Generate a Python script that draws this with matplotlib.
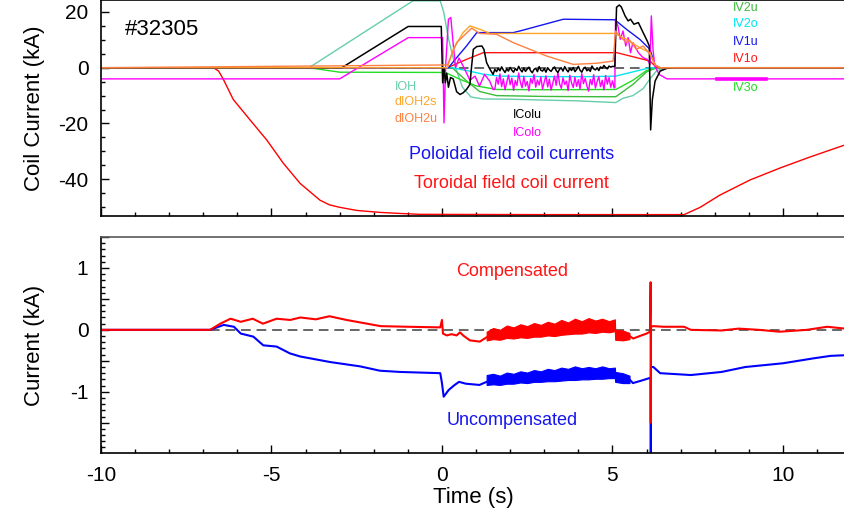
import matplotlib
matplotlib.use("Agg")
import matplotlib.pyplot as plt
from matplotlib.ticker import MultipleLocator, FuncFormatter

plt.rcParams["font.family"] = ["Liberation Sans", "DejaVu Sans"]
plt.rcParams["axes.unicode_minus"] = False

# ---------------- top panel: coil currents (kA) vs time (s) ----------------
tf_t = [-10, -6.7, -6.55, -6.41, -6.12, -5.63, -5.14, -4.65, -4.16, -3.58,
        -3.3, -2.99, -2.5, -1.82, -1.2, -0.65, 3.0, 7.1, 7.57, 8.15, 9.03,
        9.91, 10.8, 11.82]
tf_i = [0, 0, -1.2, -4.2, -11.4, -18.7, -25.9, -34.3, -41.5, -47.5,
        -49.2, -50.1, -51.2, -51.9, -52.3, -52.6, -52.7, -52.7, -50.1, -45.7,
        -40.3, -36.0, -32.0, -27.7]

ioh_t = [-10, -3.9, -0.85, -0.05, 0.05, 0.2, 0.4, 0.6, 0.85, 1.2, 2.0, 3.0,
         4.0, 5.1, 5.3, 5.6, 5.9, 6.1, 6.3, 6.6, 11.82]
ioh_i = [0, 0, 24, 24, 20, 10, 0, -7, -10.5, -11.2, -11.3, -11.6,
         -11.9, -12.5, -11.0, -10.0, -7.5, -4.0, -1.0, 0, 0]

v3o_t = [-10, -3.9, -3.0, 0.1, 0.5, 1.0, 1.6, 3.0, 5.1, 5.6, 6.0, 6.3, 11.82]
v3o_i = [0, 0, -1.6, -1.7, -4.0, -6.5, -7.8, -7.9, -7.8, -4.5, -1.0, 0, 0]

v2u_t = [-10, 0.3, 0.7, 1.1, 1.6, 3.0, 4.5, 5.1, 5.6, 6.0, 6.3, 11.82]
v2u_i = [0, 0, -4.5, -8.5, -10.0, -10.3, -10.4, -10.4, -6.0, -1.5, 0, 0]

v2o_t = [-10, 0.3, 0.8, 1.2, 1.7, 2.3, 3.2, 4.3, 5.1, 6.1, 11.82]
v2o_i = [0, 0, -1.2, -2.3, -3.0, -3.1, -3.2, -3.2, -3.0, 0, 0]

v1o_t = [-10, 0.16, 0.72, 1.21, 5.13, 6.1, 6.3, 11.82]
v1o_i = [0, 0, 3.0, 5.4, 5.4, 2.4, 0, 0]

v1u_t = [-10, 0.19, 0.43, 0.72, 1.02, 2.09, 2.29, 3.56, 5.07, 5.41, 5.8, 6.1,
         6.25, 6.4, 11.82]
v1u_i = [0, 0, 3.6, 7.8, 12.6, 12.6, 13.2, 17.4, 17.2, 13.8, 10.2, 6.6,
         1.0, 0, 0]

h2s_t = [-10, 0.16, 0.33, 0.62, 0.82, 1.11, 1.41, 5.07, 5.41, 5.8, 6.1, 6.25,
         6.4, 11.82]
h2s_i = [0, 0, 6.6, 12.6, 15.0, 13.8, 12.3, 12.3, 10.2, 7.2, 5.4, 1.0, 0, 0]

h2u_t = [-10, 0.16, 0.43, 0.87, 1.11, 1.6, 2.09, 3.07, 3.85, 4.54, 5.02, 5.09,
         5.2, 5.41, 5.5, 5.7, 5.9, 6.1, 6.25, 6.4, 11.82]
h2u_i = [0, 1.0, 9.0, 14.2, 12.3, 12.0, 9.0, 4.2, 1.2, 1.6, 2.4, 13.2,
         11.5, 9.0, 10.0, 6.6, 7.8, 4.8, 1.0, 0, 0]

# plasma flat-top, sampled every 0.05 s
flat_t = [1.55, 1.6, 1.65, 1.7, 1.75, 1.8, 1.85, 1.9, 1.95, 2.0, 2.05, 2.1,
          2.15, 2.2, 2.25, 2.3, 2.35, 2.4, 2.45, 2.5, 2.55, 2.6, 2.65, 2.7,
          2.75, 2.8, 2.85, 2.9, 2.95, 3.0, 3.05, 3.1, 3.15, 3.2, 3.25, 3.3,
          3.35, 3.4, 3.45, 3.5, 3.55, 3.6, 3.65, 3.7, 3.75, 3.8, 3.85, 3.9,
          3.95, 4.0, 4.05, 4.1, 4.15, 4.2, 4.25, 4.3, 4.35, 4.4, 4.45, 4.5,
          4.55, 4.6, 4.65, 4.7, 4.75, 4.8, 4.85, 4.9, 4.95, 5.0, 5.05]
colu_flat = [-0.6, -1.4, -0.2, -1.1, 0.3, -0.8, -1.7, -0.4, -1.2, 0.1,
             -0.9, -1.6, -0.3, -1.0, 0.5, -0.7, -1.5, -0.1, -1.3, -0.5,
             0.2, -1.1, -1.8, -0.6, -0.2, -1.4, 0.4, -0.9, -1.2, -0.3,
             -1.6, 0.0, -0.8, -1.3, -0.4, 0.3, -1.0, -1.7, -0.5, -0.1,
             -1.2, 0.4, -0.7, -1.5, -0.2, -1.0, 0.1, -1.4, -0.6, 0.5,
             -0.9, -1.6, -0.3, 0.2, -1.1, -0.5, -1.3, 0.6, -0.4, -0.8,
             0.0, -1.0, 0.3, -0.2, 0.8, 0.1, -0.4, 0.6, 0.2, 0.5, 0.4]
colo_flat = [-7.8, -3.5, -5.9, -2.2, -6.8, -4.0, -7.9, -5.2, -2.6, -6.1,
             -3.7, -8.1, -4.6, -6.4, -1.9, -5.3, -7.2, -3.1, -6.6, -4.9,
             -8.3, -3.9, -5.6, -2.4, -7.0, -4.4, -6.2, -3.3, -7.7, -5.1,
             -2.9, -6.9, -4.1, -8.0, -5.5, -3.0, -6.3, -1.6, -5.8, -7.4,
             -3.6, -6.0, -4.8, -8.2, -2.7, -5.4, -7.1, -3.4, -6.7, -4.3,
             -7.6, -2.1, -5.7, -3.8, -6.5, -8.4, -4.2, -6.1, -2.5, -7.3,
             -5.0, -3.2, -6.8, -4.5, -7.9, -2.8, -5.9, -3.5, -7.0, -4.7, -7.2]

colu_t = ([-10, -2.94, -0.99, -0.02, 0.02, 0.06, 0.1, 0.14, 0.19, 0.25, 0.33,
           0.43, 0.53, 0.62, 0.72, 0.82, 0.87, 0.92, 1.02, 1.17, 1.23, 1.31,
           1.41, 1.5] + flat_t +
          [5.07, 5.12, 5.2, 5.26, 5.37, 5.46, 5.53, 5.63, 5.76, 5.9, 6.02,
           6.08, 6.12, 6.17, 6.25, 6.4, 6.6, 6.8, 11.82])
colu_i = ([0, 0, 14.8, 14.8, -5.4, 0.0, -5.4, -2.0, -7.0, -3.5, -4.0,
           -8.6, -9.6, -9.0, -7.8, -6.0, 0.6, 6.6, 7.6, 7.8, 6.6, 1.8,
           -0.6, -2.4] + colu_flat +
          [0.5, 21.7, 22.5, 21.8, 18.6, 16.8, 17.4, 15.6, 16.2, 12.6, 9.6,
           7.8, -22.3, -11.4, -4.8, -1.2, -0.2, 0, 0])

colo_t = ([-10, -3.0, -0.99, -0.02, 0.02, 0.06, 0.11, 0.19, 0.26, 0.33, 0.4,
           0.5, 0.67, 0.82, 0.97, 1.1, 1.25, 1.4, 1.5] + flat_t +
          [5.07, 5.09, 5.16, 5.23, 5.31, 5.39, 5.46, 5.53, 5.6, 5.76, 5.9,
           6.02, 6.1, 6.14, 6.19, 6.24, 6.37, 6.6, 11.82])
colo_i = ([-4, -4, 10.8, 10.8, 10.8, -19.8, 1.0, 17.4, 18.0, 8.5, 0.0,
           3.5, -0.6, -4.5, -3.0, -6.6, -2.4, -4.8, -7.8] + colo_flat +
          [-7.2, 17.4, 15.0, 10.2, 13.2, 7.8, 10.8, 5.4, 9.0, 5.4, 3.6,
           3.0, 1.2, 18.6, 6.6, 0.6, -2.4, -4.0, -4.0])
colo_thick_t = [8.06, 9.5]
colo_thick_i = [-4, -4]

# ---------------- bottom panel: compensated / uncompensated (kA) -------------
comp_pre_t = [-10, -6.8, -6.5, -6.2, -5.9, -5.55, -5.25, -4.85, -4.45, -4.15,
              -3.7, -3.3, -2.8, -2.4, -1.8, -1.0, -0.05, 0.0, 0.03, 0.14,
              0.28, 0.43, 0.53, 0.62, 0.82, 1.11, 1.31]
comp_pre_i = [0, 0, 0.1, 0.18, 0.13, 0.18, 0.10, 0.18, 0.16, 0.20,
              0.17, 0.22, 0.16, 0.12, 0.06, 0.05, 0.04, 0.16, -0.06, -0.09,
              -0.07, -0.09, -0.04, -0.09, -0.17, -0.19, -0.12]
comp_post_t = [5.5, 5.61, 5.8, 6.0, 6.1, 6.12, 6.125, 6.13, 6.2, 6.5, 7.1,
               7.3, 8.2, 8.7, 9.3, 9.9, 10.7, 11.3, 11.82]
comp_post_i = [-0.1, -0.14, -0.1, -0.06, -0.03, 0.77, -1.5, 0.05, 0.06, 0.05,
               0.05, 0.0, -0.01, 0.02, 0.0, -0.03, 0.0, 0.05, 0.02]

unc_pre_t = [-10, -6.8, -6.4, -6.1, -5.9, -5.53, -5.24, -4.85, -4.46, -4.16,
             -3.28, -2.4, -1.82, -1.23, -0.05, 0.0, 0.05, 0.2, 0.35, 0.5, 0.7,
             1.1, 1.31]
unc_pre_i = [0, 0, 0.08, 0.05, -0.06, -0.11, -0.25, -0.27, -0.38, -0.43,
             -0.52, -0.59, -0.66, -0.68, -0.70, -0.86, -1.08, -0.97, -0.9,
             -0.84, -0.87, -0.89, -0.84]
unc_post_t = [5.5, 5.6, 5.85, 6.08, 6.12, 6.125, 6.13, 6.2, 6.4, 7.3, 8.2,
              8.9, 10.0, 10.9, 11.4, 11.82]
unc_post_i = [-0.8, -0.86, -0.82, -0.78, -0.78, -2.1, -0.6, -0.6, -0.70,
              -0.73, -0.68, -0.6, -0.54, -0.46, -0.42, -0.41]

band_t = [1.31, 1.5, 1.7, 1.9, 2.1, 2.3, 2.5, 2.7, 2.9, 3.1, 3.3, 3.5, 3.7,
          3.9, 4.1, 4.3, 4.5, 4.7, 4.9, 5.07, 5.08, 5.3, 5.5]
comp_up = [-0.03, 0.03, 0.0, 0.07, 0.04, 0.09, 0.06, 0.11, 0.08, 0.13, 0.10,
           0.16, 0.12, 0.18, 0.14, 0.19, 0.15, 0.18, 0.14, 0.17, 0.0, -0.01,
           -0.05]
comp_lo = [-0.17, -0.15, -0.16, -0.13, -0.14, -0.12, -0.13, -0.11, -0.11,
           -0.09, -0.10, -0.08, -0.07, -0.06, -0.06, -0.04, -0.05, -0.03,
           -0.04, -0.02, -0.16, -0.17, -0.15]
unc_up = [-0.73, -0.71, -0.74, -0.69, -0.71, -0.67, -0.69, -0.65, -0.67,
          -0.63, -0.65, -0.61, -0.63, -0.59, -0.62, -0.60, -0.62, -0.59, -0.62,
          -0.61, -0.68, -0.70, -0.74]
unc_lo = [-0.89, -0.88, -0.89, -0.87, -0.87, -0.85, -0.86, -0.84, -0.84,
          -0.83, -0.83, -0.82, -0.81, -0.81, -0.80, -0.80, -0.79, -0.79, -0.78,
          -0.78, -0.84, -0.86, -0.86]

C = {"IOH": "#66CDAA", "dIOH2s": "#FFA526", "dIOH2u": "#FF8040",
     "IColu": "black", "IColo": "#FF00FF", "IV2u": "#3CBB3C",
     "IV2o": "#00E5F5", "IV1u": "#1515F0", "IV1o": "#FF1515", "IV3o": "#22DD22"}

fig = plt.figure(figsize=(8.45, 5.2), dpi=100)
ax1 = fig.add_axes([0.1195, 0.5846, 0.8805, 0.4154])
ax2 = fig.add_axes([0.1195, 0.1288, 0.8805, 0.4154])

for ax in (ax1, ax2):
    ax.set_xlim(-10, 11.82)
    ax.xaxis.set_major_locator(MultipleLocator(5))
    ax.xaxis.set_minor_locator(MultipleLocator(1))
    ax.tick_params(which="both", direction="in", top=False, right=False,
                   width=1, labelsize=15)
    ax.tick_params(which="major", length=6, pad=9)
    ax.tick_params(which="minor", length=3)
    ax.spines["right"].set_visible(False)
    for sp in ("left", "bottom", "top"):
        ax.spines[sp].set_linewidth(1.2)

# top panel
ax1.set_ylim(-53.2, 24.3)
ax1.yaxis.set_major_locator(MultipleLocator(20))
ax1.yaxis.set_minor_locator(MultipleLocator(5))
ax1.tick_params(labelbottom=False)
ax1.axhline(0, color="0.4", lw=1.4, ls=(0, (5, 3)), zorder=1)
ax1.plot(tf_t, tf_i, color="#FF0000", lw=1.0)
ax1.plot(ioh_t, ioh_i, color=C["IOH"], lw=1.0)
ax1.plot(v2u_t, v2u_i, color=C["IV2u"], lw=1.0)
ax1.plot(v3o_t, v3o_i, color=C["IV3o"], lw=1.0)
ax1.plot(v2o_t, v2o_i, color=C["IV2o"], lw=1.0)
ax1.plot(v1o_t, v1o_i, color=C["IV1o"], lw=1.0)
ax1.plot(v1u_t, v1u_i, color=C["IV1u"], lw=1.0)
ax1.plot(colo_t, colo_i, color=C["IColo"], lw=1.0)
ax1.plot(colo_thick_t, colo_thick_i, color=C["IColo"], lw=2.6)
ax1.plot(colu_t, colu_i, color=C["IColu"], lw=1.1)
ax1.plot(h2s_t, h2s_i, color=C["dIOH2s"], lw=1.0)
ax1.plot(h2u_t, h2u_i, color=C["dIOH2u"], lw=1.0)

ax1.text(-9.3, 13.8, "#32305", fontsize=16, va="center")
for name, y in (("IOH", -6.75), ("dIOH2s", -12.2), ("dIOH2u", -18.3)):
    ax1.text(-1.38, y, name, color=C[name], fontsize=9, va="center")
for name, y in (("IColu", -16.9), ("IColo", -23.4)):
    ax1.text(2.08, y, name, color=C[name], fontsize=9, va="center")
for name, y in (("IV2u", 21.6), ("IV2o", 15.6), ("IV1u", 9.3),
                ("IV1o", 3.2), ("IV3o", -7.1)):
    ax1.text(8.53, y, name, color=C[name], fontsize=9, va="center")
ax1.text(2.05, -31.3, "Poloidal field coil currents", color="#1515F0",
         fontsize=13, ha="center", va="center")
ax1.text(2.05, -41.4, "Toroidal field coil current", color="#FF1515",
         fontsize=13, ha="center", va="center")
ax1.set_ylabel("Coil Current (kA)", fontsize=16)
ax1.yaxis.set_label_coords(-0.075, 0.5)

# bottom panel
ax2.set_ylim(-1.99, 1.5)
ax2.yaxis.set_major_locator(MultipleLocator(0.5))
ax2.yaxis.set_minor_locator(MultipleLocator(0.1))
ax2.yaxis.set_major_formatter(
    FuncFormatter(lambda v, p: f"{v:.0f}" if abs(v - round(v)) < 1e-6 else ""))
ax2.spines["top"].set_color("0.35")
ax2.axhline(0, color="0.4", lw=1.4, ls=(0, (5, 3)), zorder=1)
ax2.fill_between(band_t, unc_lo, unc_up, color="#0000FF", lw=0.8,
                 edgecolor="#0000FF")
ax2.plot(unc_pre_t, unc_pre_i, color="#0000FF", lw=1.5)
ax2.plot(unc_post_t, unc_post_i, color="#0000FF", lw=1.5)
ax2.fill_between(band_t, comp_lo, comp_up, color="#FF0000", lw=0.8,
                 edgecolor="#FF0000")
ax2.plot(comp_pre_t, comp_pre_i, color="#FF0000", lw=1.5)
ax2.plot(comp_post_t, comp_post_i, color="#FF0000", lw=1.5)
ax2.text(2.05, 0.95, "Compensated", color="#FF1515", fontsize=13,
         ha="center", va="center")
ax2.text(2.05, -1.46, "Uncompensated", color="#1515F0", fontsize=13,
         ha="center", va="center")
ax2.set_ylabel("Current (kA)", fontsize=16)
ax2.yaxis.set_label_coords(-0.075, 0.5)
ax2.set_xlabel("Time (s)", fontsize=16, labelpad=2)

fig.savefig("out.png", dpi=100)
